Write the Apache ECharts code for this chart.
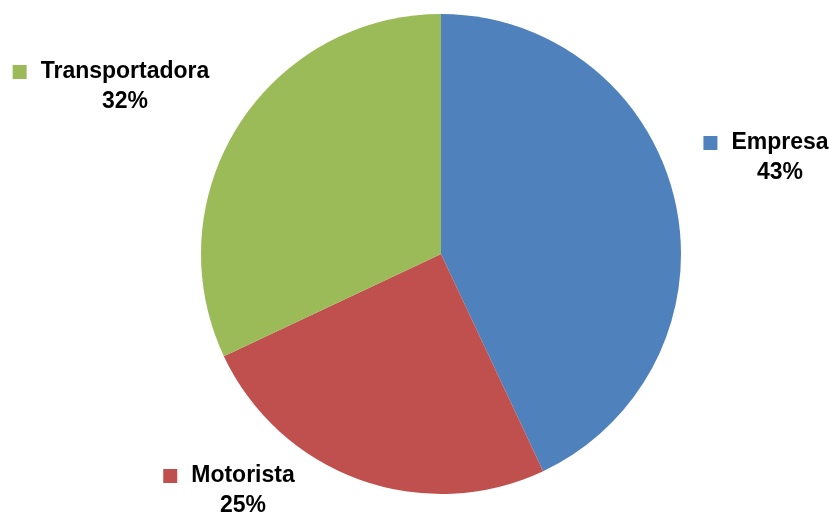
<!DOCTYPE html>
<html><head><meta charset="utf-8">
<script src="https://cdn.jsdelivr.net/npm/echarts@6/dist/echarts.min.js"></script>
<style>html,body{margin:0;padding:0;background:#fff}#c{width:829px;height:519px}</style>
</head><body><div id="c"></div>
<script>
const categories = ['Empresa', 'Motorista', 'Transportadora'];
const values = [43, 25, 32];
const colors = ['#4F81BD', '#C0504D', '#9BBB59'];
// label anchor (top-center of each label block), style only
const labelPos = [[766, 128], [229, 461], [111, 57]];

const chart = echarts.init(document.getElementById('c'), null, {renderer: 'canvas'});
const rich = {
  gap: {width: 14},
  pad: {width: 28},
  name: {fontFamily: 'Liberation Sans', fontWeight: 'bold', fontSize: 23, color: '#000', lineHeight: 30},
  pct: {fontFamily: 'Liberation Sans', fontWeight: 'bold', fontSize: 23, color: '#000', lineHeight: 30}
};
colors.forEach((c, i) => { rich['sq' + i] = {width: 14, height: 14, backgroundColor: c, verticalAlign: 'middle'}; });

chart.setOption({
  animation: false,
  series: [{
    type: 'pie',
    center: [441, 254],
    radius: 240,
    startAngle: 90,
    clockwise: true,
    avoidLabelOverlap: false,
    silent: true,
    data: categories.map((n, i) => ({name: n, value: values[i], itemStyle: {color: colors[i]}})),
    label: {
      show: true,
      position: 'outside',
      align: 'center',
      formatter: p => `{sq${p.dataIndex}|}{gap|}{name|${p.name}}\n{pad|}{pct|${p.value}%}`,
      rich: rich
    },
    labelLine: {show: false},
    labelLayout: p => ({x: labelPos[p.dataIndex][0], y: labelPos[p.dataIndex][1], align: 'center', verticalAlign: 'top'})
  }]
});
</script></body></html>
